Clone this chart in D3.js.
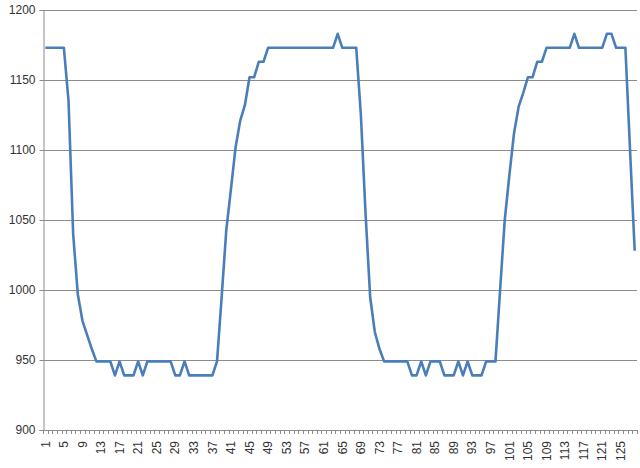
<!DOCTYPE html>
<html>
<head>
<meta charset="utf-8">
<script src="https://cdn.jsdelivr.net/npm/d3@7/dist/d3.min.js"></script>
<style>
  html, body { margin: 0; padding: 0; background: #ffffff; }
  svg { display: block; }
  text { font-family: "Liberation Sans", Arial, sans-serif; fill: #333; }
</style>
</head>
<body>
<svg id="chart" width="640" height="468"></svg>
<script>
// ---- data ----
const categories = d3.range(1, 129); // category index 1..128
const values = [
  1173, 1173, 1173, 1173, 1173, 1135, 1040, 997, 978, 968,
  958, 949, 949, 949, 949, 939, 949, 939, 939, 939,
  949, 939, 949, 949, 949, 949, 949, 949, 939, 939,
  949, 939, 939, 939, 939, 939, 939, 949, 995, 1043,
  1072, 1102, 1121, 1132, 1152, 1152, 1163, 1163, 1173, 1173,
  1173, 1173, 1173, 1173, 1173, 1173, 1173, 1173, 1173, 1173,
  1173, 1173, 1173, 1183, 1173, 1173, 1173, 1173, 1125, 1055,
  995, 970, 958, 949, 949, 949, 949, 949, 949, 939,
  939, 949, 939, 949, 949, 949, 939, 939, 939, 949,
  939, 949, 939, 939, 939, 949, 949, 949, 1000, 1050,
  1082, 1112, 1131, 1141, 1152, 1152, 1163, 1163, 1173, 1173,
  1173, 1173, 1173, 1173, 1183, 1173, 1173, 1173, 1173, 1173,
  1173, 1183, 1183, 1173, 1173, 1173, 1100, 1028
];
const xTickLabels = [1, 5, 9, 13, 17, 21, 25, 29, 33, 37, 41, 45, 49, 53, 57, 61,
  65, 69, 73, 77, 81, 85, 89, 93, 97, 101, 105, 109, 113, 117, 121, 125];
const yTickValues = [900, 950, 1000, 1050, 1100, 1150, 1200];

// ---- layout ----
const plot = { left: 43, right: 637, top: 10, bottom: 430 };
const svg = d3.select("#chart");

const x = d3.scaleBand().domain(categories).range([plot.left, plot.right]).padding(0);
const y = d3.scaleLinear().domain([900, 1200]).range([plot.bottom, plot.top]);
const bw = x.bandwidth();

// gridlines
svg.append("g").selectAll("line").data(yTickValues.filter(v => v !== 900)).join("line")
  .attr("x1", plot.left).attr("x2", plot.right)
  .attr("y1", d => Math.round(y(d)) + 0.5).attr("y2", d => Math.round(y(d)) + 0.5)
  .attr("stroke", "#8c8c8c").attr("stroke-width", 1);

// y axis
const yAxis = svg.append("g")
  .attr("transform", `translate(${plot.left + 0.5},0)`)
  .call(d3.axisLeft(y).tickValues(yTickValues).tickSize(4).tickPadding(4).tickFormat(d3.format("d")));
yAxis.select(".domain").attr("stroke", "#8c8c8c");
yAxis.selectAll(".tick line").attr("stroke", "#8c8c8c");
yAxis.selectAll(".tick text").style("font-size", "12px").attr("fill", "#333");

// x axis baseline
svg.append("line")
  .attr("x1", plot.left).attr("x2", plot.right)
  .attr("y1", plot.bottom + 0.5).attr("y2", plot.bottom + 0.5)
  .attr("stroke", "#8c8c8c");

// x tick marks at category boundaries
const boundaries = categories.map(c => x(c)).concat([x(categories[categories.length - 1]) + bw]);
svg.append("g").selectAll("line").data(boundaries).join("line")
  .attr("x1", d => Math.round(d) + 0.5).attr("x2", d => Math.round(d) + 0.5)
  .attr("y1", plot.bottom).attr("y2", plot.bottom + 4)
  .attr("stroke", "#8c8c8c");

// x labels
const xAxis = svg.append("g")
  .attr("transform", `translate(0,${plot.bottom})`)
  .call(d3.axisBottom(x).tickValues(xTickLabels).tickSize(0).tickPadding(0));
xAxis.select(".domain").remove();
xAxis.selectAll(".tick text")
  .style("font-size", "12px")
  .attr("fill", "#333")
  .attr("text-anchor", "end")
  .attr("transform", "translate(0,11) rotate(-90)")
  .attr("x", 0).attr("y", 0).attr("dy", "0.35em");

// line
const line = d3.line()
  .x((d, i) => x(categories[i]) + bw / 2)
  .y(d => y(d));
svg.append("path")
  .datum(values)
  .attr("fill", "none")
  .attr("stroke", "#4a7ebb")
  .attr("stroke-width", 2.6)
  .attr("stroke-linejoin", "round")
  .attr("d", line);
</script>
</body>
</html>
